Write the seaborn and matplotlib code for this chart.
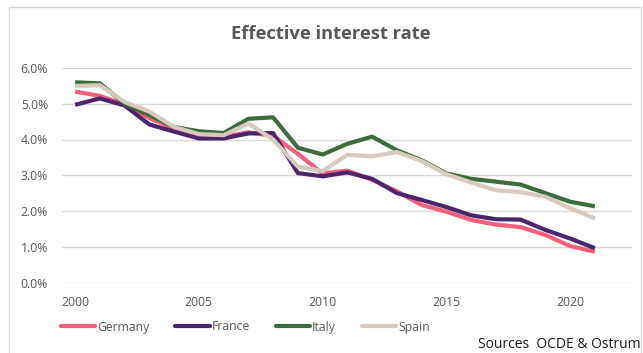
import matplotlib
matplotlib.use("Agg")
import matplotlib.pyplot as plt
import pandas as pd
import seaborn as sns
from matplotlib.lines import Line2D
from matplotlib.patches import Rectangle
from matplotlib.ticker import FuncFormatter, FixedLocator

# Effective interest rate (%) by country, 2000-2021
years = list(range(2000, 2022))
germany = [5.34, 5.22, 4.98, 4.60, 4.30, 4.10, 4.08, 4.20, 4.10, 3.60, 3.05,
           3.13, 2.87, 2.55, 2.17, 1.98, 1.75, 1.62, 1.55, 1.33, 1.02, 0.86]
france = [4.97, 5.15, 4.95, 4.42, 4.22, 4.03, 4.03, 4.17, 4.18, 3.06, 2.97,
          3.08, 2.90, 2.50, 2.31, 2.11, 1.88, 1.77, 1.76, 1.47, 1.23, 0.96]
italy = [5.60, 5.57, 5.00, 4.68, 4.35, 4.23, 4.18, 4.58, 4.62, 3.77, 3.58,
         3.88, 4.08, 3.70, 3.42, 3.05, 2.90, 2.82, 2.74, 2.50, 2.26, 2.13]
spain = [5.50, 5.52, 5.05, 4.78, 4.35, 4.15, 4.12, 4.45, 4.00, 3.24, 3.12,
         3.57, 3.53, 3.65, 3.40, 3.03, 2.80, 2.58, 2.53, 2.40, 2.08, 1.79]

countries = ["Germany", "France", "Italy", "Spain"]
colors = {"Germany": "#F2607D", "France": "#4B2669",
          "Italy": "#3E6B3E", "Spain": "#D7C9BD"}
x_ticks = [2000, 2005, 2010, 2015, 2020]
y_ticks = [0, 1, 2, 3, 4, 5, 6]

series = {"Germany": germany, "France": france, "Italy": italy, "Spain": spain}
df = pd.DataFrame(
    [(y, c, v) for c in countries for y, v in zip(years, series[c])],
    columns=["year", "country", "rate"],
)

sns.set_style("white")
plt.rcParams["font.family"] = ["Open Sans", "DejaVu Sans"]

text_gray = "#595959"
grid_gray = "#D9D9D9"

fig = plt.figure(figsize=(6.43, 3.53), dpi=100)
ax = fig.add_axes([62 / 643, 1 - 282.5 / 353, 570 / 643, 214.5 / 353])

sns.lineplot(data=df, x="year", y="rate", hue="country", hue_order=countries,
             palette=colors, linewidth=3.0, ax=ax, legend=False,
             solid_capstyle="butt")

ax.set_xlim(1999.47, 2022.5)
ax.set_ylim(0, 6)
ax.xaxis.set_major_locator(FixedLocator(x_ticks))
ax.yaxis.set_major_locator(FixedLocator(y_ticks))
ax.yaxis.set_major_formatter(FuncFormatter(lambda v, _: f"{v:.1f}%"))
ax.grid(axis="y", color=grid_gray, linewidth=1.0)
ax.grid(axis="x", visible=False)
ax.set_axisbelow(True)
for s in ax.spines.values():
    s.set_visible(False)
ax.tick_params(axis="both", length=0, colors=text_gray, labelsize=8.8)
ax.tick_params(axis="y", pad=10)
ax.tick_params(axis="x", pad=10)
ax.set_xlabel("")
ax.set_ylabel("")

# outer chart frame
fig.patches.append(Rectangle((8.5 / 643, -0.01), 632 / 643, 1 - 7.5 / 353 + 0.01,
                             transform=fig.transFigure, fill=False,
                             edgecolor=grid_gray, linewidth=1.0))

fig.text(331 / 643, 1 - 34 / 353, "Effective interest rate", ha="center",
         va="center", fontsize=13.2, fontweight="bold", color=text_gray)

handles = [Line2D([0], [0], color=colors[c], linewidth=3.0) for c in countries]
fig.legend(handles, countries, loc="center left",
           bbox_to_anchor=(56 / 643, 1 - 327 / 353), ncol=4, frameon=False,
           fontsize=8.8, labelcolor=text_gray, handlelength=2.8,
           handletextpad=0.15, columnspacing=2.15, borderaxespad=0)

fig.text(641 / 643, 1 - 345 / 353, "Sources  OCDE & Ostrum", ha="right",
         va="center", fontsize=10, color="#1a1a1a")

fig.savefig("out.png", dpi=100)
